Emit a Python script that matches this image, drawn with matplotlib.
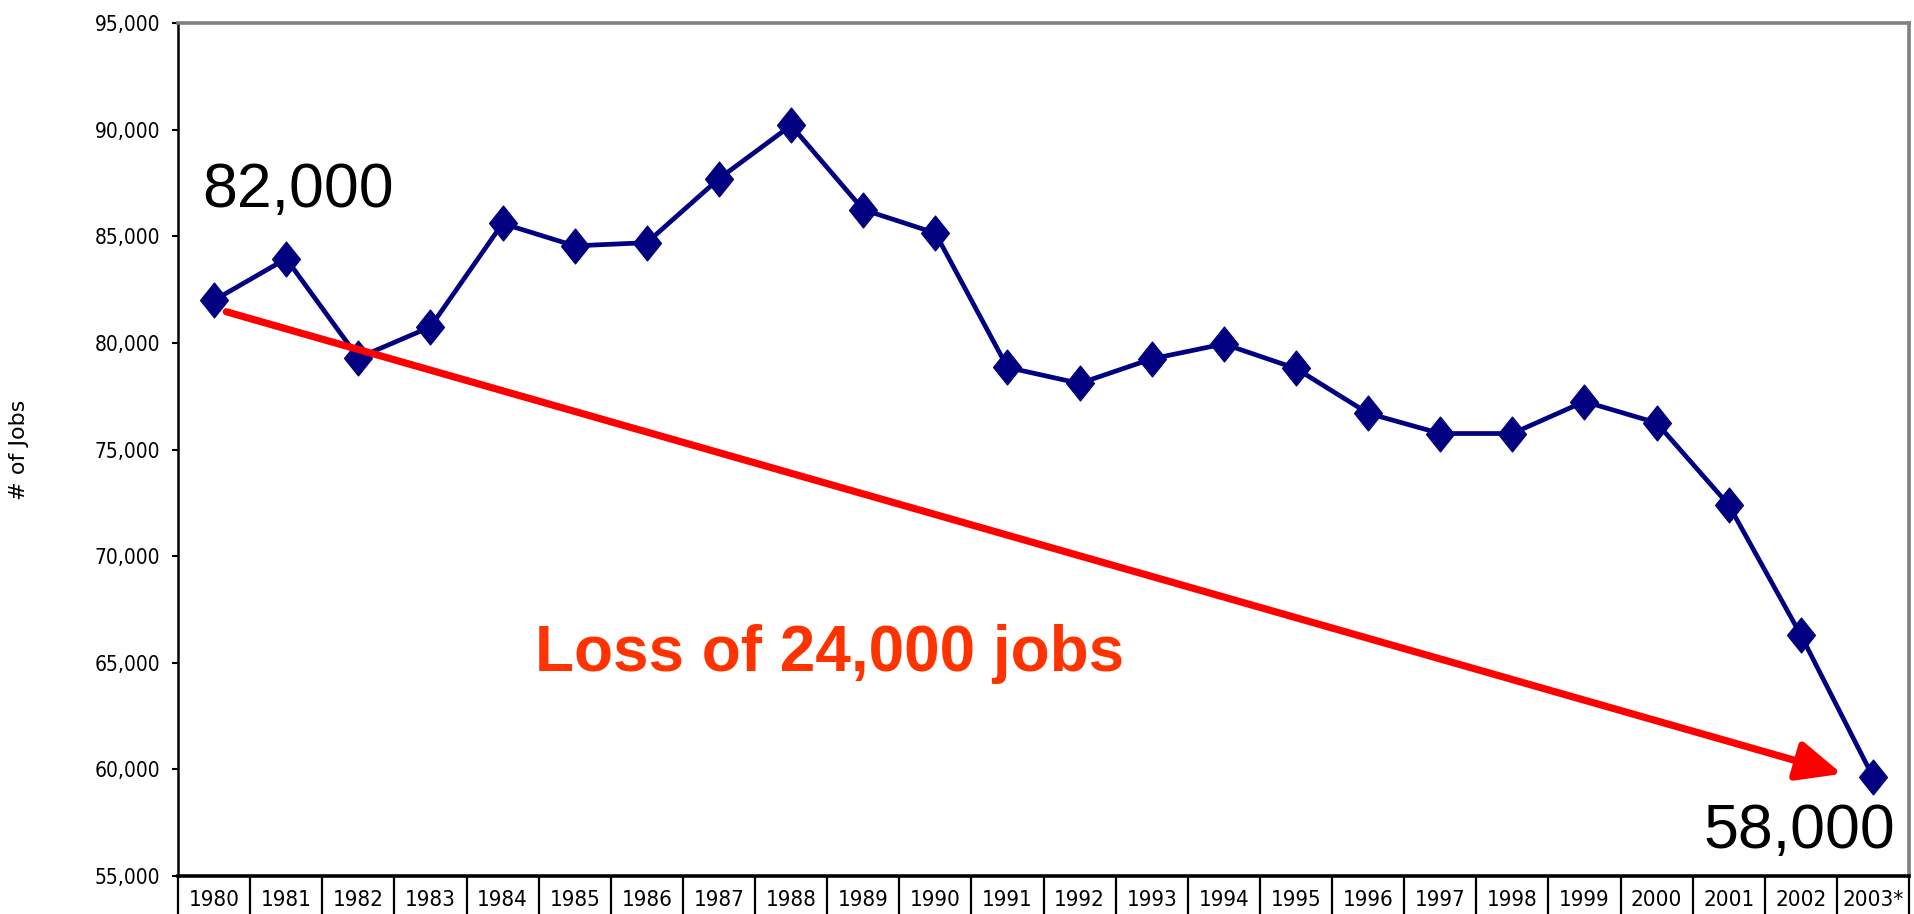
import matplotlib
matplotlib.use("Agg")
import matplotlib.pyplot as plt
import numpy as np
from matplotlib import font_manager
from matplotlib.path import Path
from matplotlib.patches import FancyArrowPatch
from matplotlib.ticker import FixedLocator, FuncFormatter

# jobs per year
years = ["1980", "1981", "1982", "1983", "1984", "1985", "1986", "1987",
         "1988", "1989", "1990", "1991", "1992", "1993", "1994", "1995",
         "1996", "1997", "1998", "1999", "2000", "2001", "2002", "2003*"]
jobs = [82000, 83950, 79300, 80750, 85600, 84550, 84700, 87700,
        90200, 86250, 85150, 78850, 78100, 79250, 79950, 78800,
        76700, 75750, 75750, 77250, 76250, 72400, 66300, 59650]

start_label = "82,000"
end_label = "58,000"
loss_label = "Loss of 24,000 jobs"

NAVY = "#000080"


def narrow_font(size):
    """Pick a condensed face for the axis labels if one is installed."""
    for f in font_manager.fontManager.ttflist:
        name = (f.name + " " + f.fname).lower()
        if ("narrow" in name or "condensed" in name) and "bold" not in name \
                and "oblique" not in name and "italic" not in name:
            return font_manager.FontProperties(fname=f.fname, size=size)
    return font_manager.FontProperties(family="Liberation Serif", size=size)


fig = plt.figure(figsize=(19.14, 9.14), dpi=100)
ax = fig.add_axes([0.093, 0.0416, 0.9044, 0.9332])

x = np.arange(len(years))
diamond = Path([(0, 1), (0.8, 0), (0, -1), (-0.8, 0), (0, 1)],
               [Path.MOVETO, Path.LINETO, Path.LINETO, Path.LINETO, Path.CLOSEPOLY])
ax.plot(x, jobs, color=NAVY, linewidth=3.4, marker=diamond, markersize=25,
        markerfacecolor=NAVY, markeredgecolor=NAVY, zorder=3)

ax.set_xlim(-0.5, len(years) - 0.5)
ax.set_ylim(55000, 95000)

# y axis
ax.set_yticks(np.arange(55000, 95001, 5000))
ax.yaxis.set_major_formatter(FuncFormatter(lambda v, p: f"{int(v):,}"))
ax.tick_params(axis="y", direction="out", length=4, width=1.5, pad=9,
               colors="black")
yfont = narrow_font(15)
for lab in ax.get_yticklabels():
    lab.set_fontproperties(yfont)
ax.set_ylabel("# of Jobs", fontsize=16, family="DejaVu Sans")
ax.yaxis.set_label_coords(-0.086, 0.5)

# category table under the plot
ax.set_xticks(x)
ax.set_xticklabels(years)
ax.xaxis.set_minor_locator(FixedLocator(np.arange(-0.5, len(years), 1)))
ax.tick_params(axis="x", which="major", length=0, pad=10)
ax.tick_params(axis="x", which="minor", direction="out", length=40, width=1.6,
               color="black")
xfont = narrow_font(16)
for lab in ax.get_xticklabels():
    lab.set_fontproperties(xfont)

ax.spines["left"].set_linewidth(1.8)
ax.spines["bottom"].set_linewidth(2.6)
for side in ("top", "right"):
    ax.spines[side].set_color("#808080")
    ax.spines[side].set_linewidth(2.6)

# trend arrow and annotations
arrow = FancyArrowPatch((0.17, 81460), (22.57, 59790),
                        arrowstyle="-|>,head_length=27,head_width=12",
                        mutation_scale=1, color="#FF0000", linewidth=5.2,
                        shrinkA=0, shrinkB=0, zorder=4)
ax.add_patch(arrow)

ax.text(-0.16, 86370, start_label, fontsize=45, family="Liberation Sans",
        ha="left", va="baseline", color="black")
ax.text(23.31, 56320, end_label, fontsize=45, family="Liberation Sans",
        ha="right", va="baseline", color="black")
ax.text(4.45, 64600, loss_label, fontsize=46, fontweight="bold",
        family="Liberation Sans", ha="left", va="baseline", color="#FF3300")

fig.savefig("out.png", dpi=100)
